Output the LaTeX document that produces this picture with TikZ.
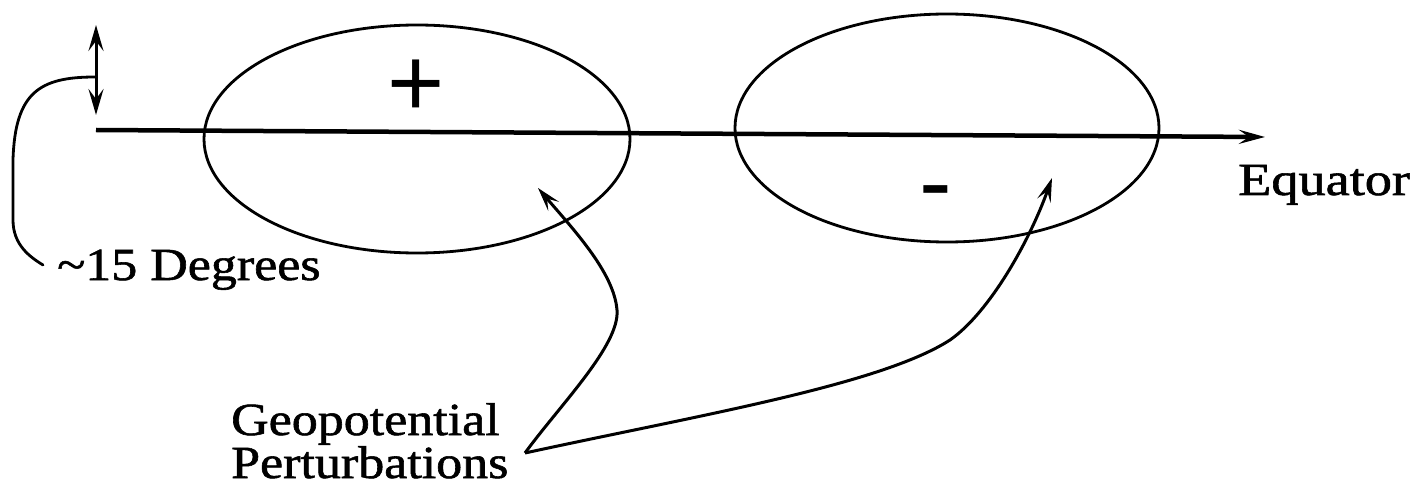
\documentclass[tikz,border=0pt]{standalone}
\usepackage{fontspec}
\setmainfont{Liberation Serif}[FakeBold=1.2]
\newfontfamily\heavy{Liberation Serif}[FakeBold=1.2]
\newfontfamily\symfont{Liberation Sans}
\usetikzlibrary{arrows.meta,shapes.geometric}
\tikzset{
  lbl/.style={inner sep=0pt, anchor=base west, font=\heavy\fontsize{46}{46}\selectfont},
  sym/.style={inner sep=0pt, anchor=base, font=\symfont\fontsize{98}{98}\selectfont},
  blob/.style={draw, ellipse, line width=2.8pt, inner sep=0pt},
  arr/.style={line width=3pt, -{Stealth[length=24pt,width=14pt,inset=10pt]}},
  darr/.style={line width=3pt, {Stealth[length=26pt,width=15pt,inset=10pt]}-{Stealth[length=26pt,width=15pt,inset=10pt]}},
  eqline/.style={line width=4.5pt, -{Stealth[length=26pt,width=14pt,inset=10pt]}},
  brk/.style={line width=2.8pt, line cap=round}
}
\begin{document}
\begin{tikzpicture}[x=1pt,y=-1pt]
\useasboundingbox (0,0) rectangle (1417,497);
% ellipses
\node[blob, minimum width=426pt, minimum height=228pt] (ellA) at (417,139) {};
\node[blob, minimum width=424pt, minimum height=228pt] (ellB) at (947,128) {};
% signs
\node[sym] (plus) at (416,117) {+};
\node[sym] (minus) at (936,216) {-};
% equator
\coordinate (eqL) at (96,130);
\coordinate (eqR) at (1265,137);
\draw[eqline] (eqL) -- (eqR);
\node[lbl] (eq) at (1238,195) {\scalebox{1.18}[1]{Equator}};
% 15 degree marker
\coordinate (dTop) at (96,25);
\coordinate (dBot) at (96,115);
\draw[darr] (dTop) -- (dBot);
\coordinate (bStart) at (95,77);
\coordinate (bEnd) at (43,265);
\draw[brk] (bStart) .. controls (40,77) and (15,92) .. (13,160) -- (13,220) .. controls (13,245) and (30,257) .. (bEnd);
\node[lbl] (deg) at (57,280) {\scalebox{1.13}[1]{\textasciitilde15 Degrees}};
% geopotential perturbations
\node[lbl] (geo) at (231,435) {\scalebox{1.13}[1]{Geopotential}};
\node[lbl] (pert) at (231,478) {\scalebox{1.13}[1]{Perturbations}};
\coordinate (v) at (525,453);
\coordinate (tipA) at (538,188);
\coordinate (tipB) at (1052,178);
\draw[arr] (v) .. controls (560,405) and (620,345) .. (617,310) .. controls (614,272) and (572,228) .. (tipA);
\draw[arr] (v) .. controls (700,415) and (880,385) .. (950,340) .. controls (990,312) and (1030,240) .. (tipB);
\end{tikzpicture}
\end{document}
